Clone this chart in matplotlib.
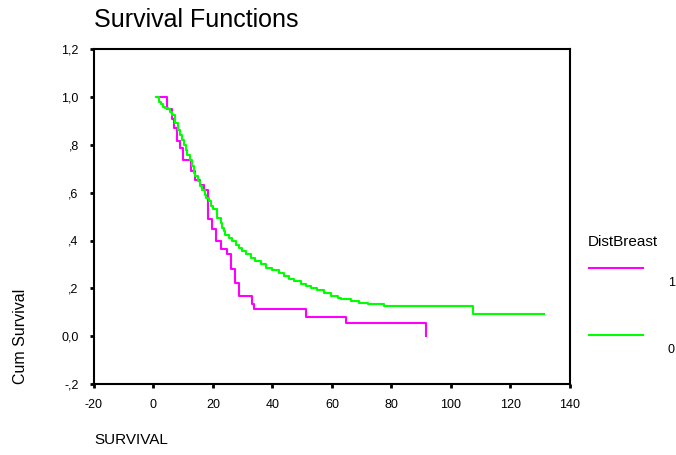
import matplotlib
matplotlib.use("Agg")
import matplotlib.pyplot as plt
from matplotlib.lines import Line2D

plt.rcParams['font.family'] = ['Liberation Sans', 'DejaVu Sans']
plt.rcParams['axes.unicode_minus'] = False

# DistBreast = 1 (magenta): survival time, cum survival after each step
t1 = [1.0, 4.6, 6.3, 6.9, 8.0, 8.9, 10.0, 12.5, 14.0, 15.5, 17.0, 18.3, 19.8,
      21.0, 22.6, 24.8, 26.2, 27.3, 28.7, 33.2, 33.8, 51.2, 64.9, 91.6]
s1 = [1.0, 0.95, 0.907, 0.869, 0.815, 0.786, 0.735, 0.69, 0.654, 0.63, 0.61,
      0.49, 0.446, 0.397, 0.363, 0.342, 0.282, 0.224, 0.168, 0.136, 0.115,
      0.082, 0.055, 0.0]

# DistBreast = 0 (green)
t0 = [1.0, 1.8, 2.6, 3.3, 4.0, 4.8, 5.5, 6.3, 7.4, 8.2, 8.9, 9.7, 10.2, 10.8,
      11.3, 12.2, 13.0, 13.6, 14.1, 14.9, 15.6, 16.4, 17.2, 17.8, 18.6, 19.4,
      20.1, 21.4, 22.6, 23.1, 23.7, 24.2, 25.4, 26.5, 27.6, 28.7, 29.9, 31.0,
      32.7, 34.3, 36.0, 37.7, 40.0, 42.2, 43.9, 45.6, 47.2, 49.5, 51.2, 52.9,
      55.1, 57.3, 59.6, 61.9, 63.0, 66.3, 69.1, 72.0, 77.5, 107.3, 131.4]
s0 = [1.0, 0.981, 0.971, 0.960, 0.953, 0.949, 0.939, 0.925, 0.890, 0.863,
      0.842, 0.821, 0.800, 0.779, 0.758, 0.738, 0.710, 0.682, 0.668, 0.647,
      0.629, 0.613, 0.592, 0.578, 0.564, 0.543, 0.532, 0.495, 0.474, 0.453,
      0.439, 0.425, 0.411, 0.397, 0.383, 0.370, 0.355, 0.342, 0.328, 0.314,
      0.300, 0.286, 0.276, 0.265, 0.251, 0.240, 0.230, 0.220, 0.210, 0.200,
      0.193, 0.182, 0.168, 0.161, 0.157, 0.147, 0.140, 0.133, 0.126, 0.093,
      0.093]

xticks = [-20, 0, 20, 40, 60, 80, 100, 120, 140]
yticks = [-0.2, 0.0, 0.2, 0.4, 0.6, 0.8, 1.0, 1.2]
ylabels = ['-,2', '0,0', ',2', ',4', ',6', ',8', '1,0', '1,2']

MAG = '#ff00ff'
GRN = '#00ff00'

fig = plt.figure(figsize=(6.76, 4.55), dpi=100)
ax = fig.add_axes([0.139, 0.156, 0.704, 0.736])

ax.step(t1, s1, where='post', color=MAG, lw=1.5)
ax.step(t0, s0, where='post', color=GRN, lw=1.5)

ax.set_xlim(-20, 140)
ax.set_ylim(-0.2, 1.2)
ax.set_xticks(xticks)
ax.set_xticklabels([str(v) for v in xticks])
ax.set_yticks(yticks)
ax.set_yticklabels(ylabels)
ax.tick_params(direction='out', length=3, width=2, labelsize=9, pad=8)
for sp in ax.spines.values():
    sp.set_linewidth(1.5)

fig.text(0.139, 0.955, 'Survival Functions', fontsize=18, va='center', ha='left')
fig.text(0.139, 0.033, 'SURVIVAL', fontsize=11, va='center', ha='left')
fig.text(0.03, 0.26, 'Cum Survival', fontsize=11.5, rotation=90, va='center', ha='center')

# legend
fig.text(0.869, 0.468, 'DistBreast', fontsize=11, va='center', ha='left')
fig.add_artist(Line2D([0.871, 0.951], [0.411, 0.411], color=MAG, lw=1.5))
fig.text(0.988, 0.378, '1', fontsize=9, va='center', ha='left')
fig.add_artist(Line2D([0.871, 0.951], [0.264, 0.264], color=GRN, lw=1.5))
fig.text(0.988, 0.231, '0', fontsize=9, va='center', ha='left')

fig.savefig('out.png', dpi=100)
